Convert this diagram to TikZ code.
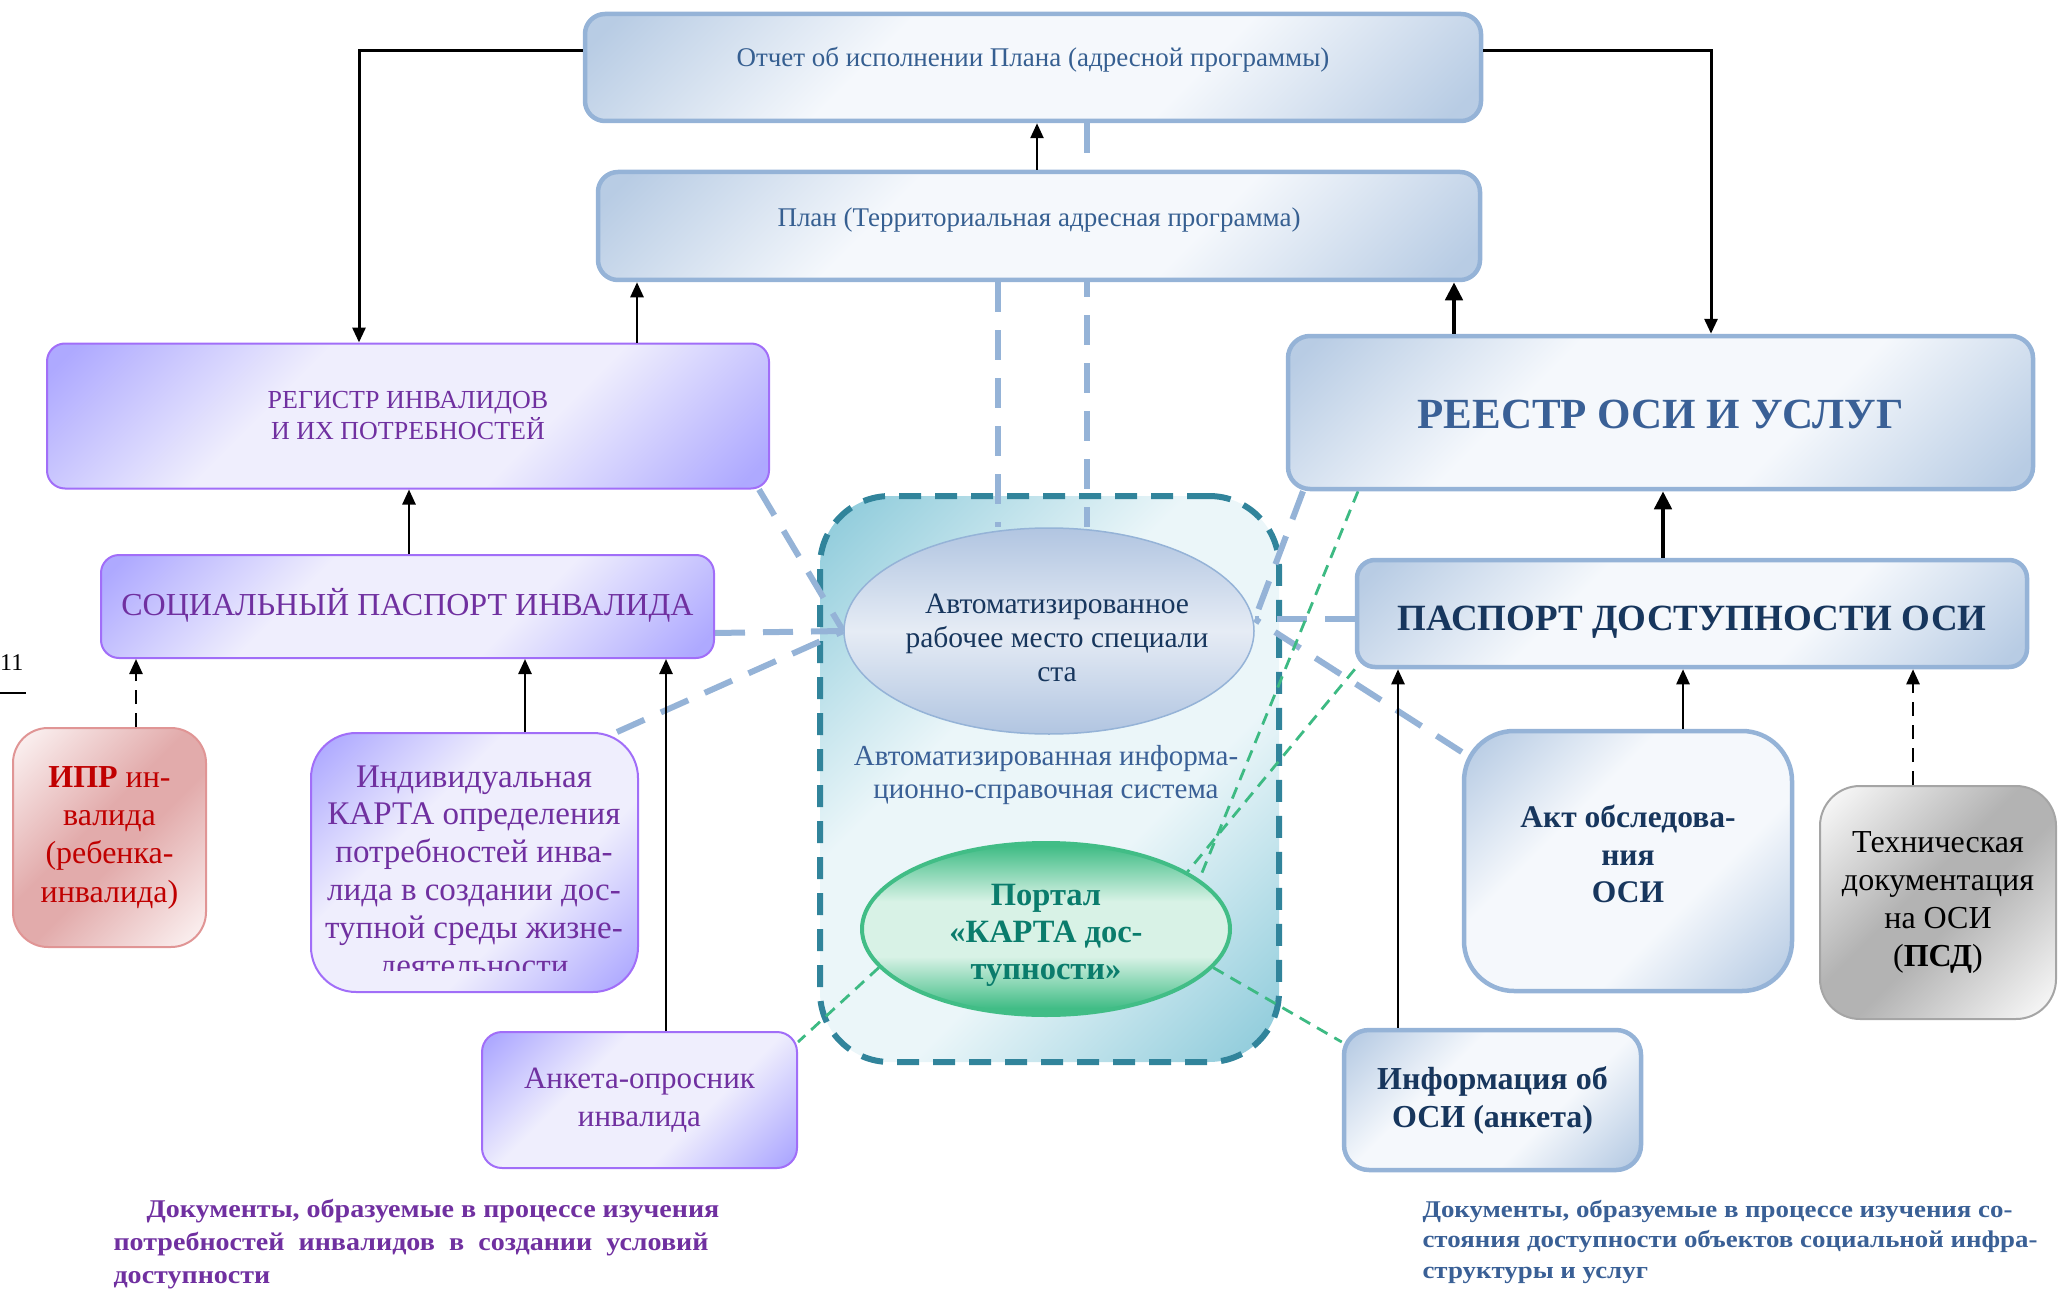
\documentclass[tikz,border=0pt]{standalone}
\usepackage{fontspec}
\setmainfont{Liberation Serif}
\newfontfamily\capfontL[FakeStretch=1.10]{Liberation Serif}
\newfontfamily\capfontR[FakeStretch=1.12]{Liberation Serif}
\usetikzlibrary{arrows.meta,calc,shapes.geometric}
\definecolor{bDark}{HTML}{B8CCE4}
\definecolor{bLight}{HTML}{F5F8FC}
\definecolor{pDark}{HTML}{AEA9FF}
\definecolor{pLight}{HTML}{EFEEFD}
\definecolor{rDark}{HTML}{E2ABAB}
\definecolor{rLight}{HTML}{FBF1F1}
\definecolor{gyDark}{HTML}{B3B3B3}
\definecolor{gyLight}{HTML}{F8F8F8}
\definecolor{tDark}{HTML}{92CDDC}
\definecolor{tLight}{HTML}{EBF6F9}
\definecolor{eDark}{HTML}{B1C5E1}
\definecolor{eLight}{HTML}{E6ECF5}
\definecolor{grD}{HTML}{41BD86}
\definecolor{grL}{HTML}{D8F2E6}
\definecolor{borderBlue}{HTML}{95B3D7}
\definecolor{borderPurple}{HTML}{A16EF8}
\definecolor{borderRed}{HTML}{E09595}
\definecolor{borderGrey}{HTML}{A5A5A5}
\definecolor{contBorder}{HTML}{31849B}
\definecolor{lineBlue}{HTML}{95B3D7}
\definecolor{lineGreen}{HTML}{3DBA83}
\definecolor{txtBlue}{HTML}{365F91}
\definecolor{txtPurple}{HTML}{7030A0}
\definecolor{txtNavy}{HTML}{17365D}
\definecolor{txtSteel}{HTML}{3A6096}
\definecolor{txtTeal}{HTML}{0A7C6C}
\definecolor{txtRed}{HTML}{C00000}
\pgfdeclareverticalshading{bluemirror}{100bp}{color(0bp)=(bDark); color(17bp)=(bDark); color(38bp)=(bLight); color(62bp)=(bLight); color(83bp)=(bDark); color(100bp)=(bDark)}
\pgfdeclareverticalshading{purplemirror}{100bp}{color(0bp)=(pDark); color(17bp)=(pDark); color(38bp)=(pLight); color(62bp)=(pLight); color(83bp)=(pDark); color(100bp)=(pDark)}
\pgfdeclareverticalshading{tealmirror}{100bp}{color(0bp)=(tDark); color(17bp)=(tDark); color(40bp)=(tLight); color(60bp)=(tLight); color(83bp)=(tDark); color(100bp)=(tDark)}
\pgfdeclareverticalshading{redband}{100bp}{color(0bp)=(rLight); color(17bp)=(rLight); color(45bp)=(rDark); color(55bp)=(rDark); color(83bp)=(rLight); color(100bp)=(rLight)}
\pgfdeclareverticalshading{greyband}{100bp}{color(0bp)=(gyLight); color(17bp)=(gyLight); color(45bp)=(gyDark); color(55bp)=(gyDark); color(83bp)=(gyLight); color(100bp)=(gyLight)}
\pgfdeclareverticalshading{awpshade}{100bp}{color(0bp)=(eDark); color(25bp)=(eDark); color(50bp)=(eLight); color(75bp)=(eDark); color(100bp)=(eDark)}
\pgfdeclareverticalshading{portalshade}{100bp}{color(0bp)=(grD); color(27bp)=(grD); color(42bp)=(grL); color(58bp)=(grL); color(74bp)=(grD); color(100bp)=(grD)}
\pgfdeclarelayer{bg}
\pgfdeclarelayer{lines}
\pgfsetlayers{bg,lines,main}
\newcommand\myfs[2]{\fontsize{#1}{#2}\selectfont}
\tikzset{
  arr/.style={line width=2.5pt, -{Triangle[length=15pt,width=13pt]}},
  warr/.style={line width=3pt, -{Triangle[length=15pt,width=13pt]}},
  tarr/.style={line width=4.5pt, -{Triangle[length=18pt,width=17pt]}},
  darr/.style={arr, dash pattern=on 14pt off 9pt},
  bdash/.style={line width=6pt, draw=lineBlue, dash pattern=on 30pt off 18pt},
  gdash/.style={line width=2.8pt, draw=lineGreen, dash pattern=on 12pt off 8pt},
  bbox/.style={draw=borderBlue, line width=4.5pt, shade, shading=bluemirror, shading angle=45, align=center, inner sep=0pt},
  pbox/.style={draw=borderPurple, line width=2pt, shade, shading=purplemirror, shading angle=45, align=center, inner sep=0pt, text=txtPurple},
  container/.style={draw=contBorder, line width=6pt, dash pattern=on 22pt off 14pt, shade, shading=tealmirror, shading angle=45, rounded corners=70pt},
}
\begin{document}
\begin{tikzpicture}[x=1pt,y=-1pt]
\useasboundingbox (0,0) rectangle (2058,1289);

\begin{pgfonlayer}{bg}
\node[container, minimum width=459pt, minimum height=566pt] (ais) at (1049.5,779) {};
\end{pgfonlayer}

% top boxes
\node[bbox, rounded corners=20pt, minimum width=896pt, minimum height=107pt] (otchet) at (1033,67.5) {};
\node[anchor=base, text=txtBlue, font=\myfs{27}{32}] (otchetT) at (1033,67) {Отчет об исполнении Плана (адресной программы)};
\node[bbox, rounded corners=20pt, minimum width=882pt, minimum height=108pt] (plan) at (1039,226) {};
\node[anchor=base, text=txtBlue, font=\myfs{27}{32}] (planT) at (1039,227) {План (Территориальная адресная программа)};

% left boxes
\node[pbox, rounded corners=18pt, minimum width=722pt, minimum height=145pt, font=\myfs{26}{31}] (reg) at (408,416) {РЕГИСТР ИНВАЛИДОВ\\И ИХ ПОТРЕБНОСТЕЙ};
\node[pbox, rounded corners=18pt, minimum width=613pt, minimum height=103pt, font=\myfs{32}{38}, text height=22pt, text depth=5pt] (soc) at (407.5,606.5) {СОЦИАЛЬНЫЙ ПАСПОРТ ИНВАЛИДА};
\node[draw=borderRed, line width=2pt, shade, shading=redband, shading angle=45, rounded corners=35pt, minimum width=193pt, minimum height=219pt, align=center, inner sep=0pt, text=txtRed, font=\myfs{32}{38.3}] (ipr) at (109.5,837.5) {\textbf{ИПР} ин-\\валида\\(ребенка-\\инвалида)};
\node[pbox, rounded corners=45pt, minimum width=327pt, minimum height=259pt] (karta) at (474.5,862.5) {};
\begin{scope}
\clip (313,735) rectangle (636,970);
\node[anchor=base, align=center, text=txtPurple, font=\myfs{33}{37.8}] (kartaT) at (474,976) {Индивидуальная\\КАРТА определения\\потребностей инва-\\лида в создании дос-\\тупной среды жизне-\\деятельности};
\end{scope}
\node[pbox, rounded corners=20pt, minimum width=315pt, minimum height=136pt, font=\myfs{31}{38}] (anketa) at (639.5,1100) {Анкета-опросник\\инвалида};

% right boxes
\node[bbox, rounded corners=22pt, minimum width=745pt, minimum height=153pt, text=txtSteel, font=\myfs{43}{50}\bfseries, text height=31pt, text depth=0pt] (reestr) at (1660.5,412.5) {РЕЕСТР ОСИ И УСЛУГ};
\node[bbox, rounded corners=18pt, minimum width=670pt, minimum height=107pt, text=txtNavy, font=\myfs{37}{44}\bfseries, text height=33pt, text depth=0pt] (pasp) at (1692,613.5) {ПАСПОРТ ДОСТУПНОСТИ ОСИ};
\node[bbox, rounded corners=50pt, minimum width=328pt, minimum height=260pt, text=txtNavy, font=\myfs{31.5}{37.5}\bfseries, text depth=14pt] (akt) at (1628,861) {Акт обследова-\\ния\\ОСИ};
\node[draw=borderGrey, line width=2pt, shade, shading=greyband, shading angle=45, rounded corners=40pt, minimum width=236pt, minimum height=233pt, align=center, inner sep=0pt, text=black, font=\myfs{32}{38}] (tech) at (1938,902.5) {Техническая\\документация\\на ОСИ\\(\textbf{ПСД})};
\node[bbox, rounded corners=25pt, minimum width=297pt, minimum height=140pt, text=txtNavy, font=\myfs{32}{38}\bfseries] (info) at (1492.5,1100) {Информация об\\ОСИ (анкета)};

% centre
\node[ellipse, draw=borderBlue, line width=1.5pt, shade, shading=awpshade, minimum width=410pt, minimum height=206pt, inner sep=0pt] (awp) at (1049,631) {};
\node[anchor=base, align=center, text=txtNavy, font=\myfs{29.5}{34}] (awpT) at (1057,681) {Автоматизированное\\рабочее место специали\\ста};
\node[anchor=base, align=center, text=txtSteel, font=\myfs{29}{33}] (aisT) at (1046,798) {Автоматизированная информа-\\ционно-справочная система};
\node[ellipse, draw=grD, line width=4pt, shade, shading=portalshade, minimum width=368pt, minimum height=172pt, inner sep=0pt] (portal) at (1046,929) {};
\node[anchor=base, align=center, text=txtTeal, font=\myfs{32.5}{37}\bfseries] (portalT) at (1046,979) {Портал\\«КАРТА дос-\\тупности»};

% captions
\node[anchor=base west, align=left, text=txtPurple, font=\capfontL\myfs{25.5}{33}\bfseries] (capL) at (110,1283) {\hspace*{33pt}Документы, образуемые в процессе изучения\\\hbox to 595pt{потребностей инвалидов в создании условий}\\доступности};
\node[anchor=base west, align=left, text=txtSteel, font=\capfontR\myfs{24}{30.5}\bfseries] (capR) at (1419,1278) {Документы, образуемые в процессе изучения со-\\стояния доступности объектов социальной инфра-\\структуры и услуг};
\node[anchor=base west, inner sep=0pt, font=\myfs{24}{28}] (n11) at (0,670) {11};
\draw[line width=1.5pt] (n11.south west |- 0,693) -- (26,693);

% coordinates on the workstation ellipse
\coordinate (aw) at (awp.west);
\coordinate (ae) at ($(awp.east)+(0,-12)$);

\begin{pgfonlayer}{lines}
\draw[bdash] (otchet.south -| 1087,0) -- (awp.north -| 1087,0);
\draw[bdash] (plan.south -| 998,0) -- (awp.north -| 998,0);
\draw[bdash] (reg.south -| 759,0) -- (aw);
\draw[bdash] (soc.east |- 0,633) -- (aw);
\draw[bdash] (karta.north -| 617,0) -- (aw);
\draw[bdash] (reestr.south -| 1303,0) -- (ae);
\draw[bdash] (pasp.west |- ae) -- (ae);
\draw[bdash] (akt.west |- 0,752) -- (ae);
\draw[gdash] (reestr.south -| 1358,0) -- (portal.18);
\draw[gdash] (pasp.south west) -- (portal.22);
\draw[gdash] (portal.193) -- (anketa.east |- 0,1042);
\draw[gdash] (portal.347) -- (info.west |- 0,1042);
\end{pgfonlayer}

% black arrows
\draw[warr] (otchet.west |- 0,51) -| (reg.north -| 359,0);
\draw[arr] (reg.north -| 637,0) -- (plan.south -| 637,0);
\draw[arr] (plan.north -| 1037,0) -- (otchet.south -| 1037,0);
\draw[warr] (otchet.east |- 0,51) -| (reestr.north -| 1711,0);
\draw[tarr] (reestr.north -| 1454,0) -- (plan.south -| 1454,0);
\draw[tarr] (pasp.north -| 1663,0) -- (reestr.south -| 1663,0);
\draw[arr] (akt.north -| 1683,0) -- (pasp.south -| 1683,0);
\draw[arr] (info.north -| 1398,0) -- (pasp.south -| 1398,0);
\draw[darr] (tech.north -| 1913,0) -- (pasp.south -| 1913,0);
\draw[arr] (soc.north -| 409,0) -- (reg.south -| 409,0);
\draw[darr] (ipr.north -| 136,0) -- (soc.south -| 136,0);
\draw[arr] (karta.north -| 525,0) -- (soc.south -| 525,0);
\draw[arr] (anketa.north -| 666,0) -- (soc.south -| 666,0);
\end{tikzpicture}
\end{document}
